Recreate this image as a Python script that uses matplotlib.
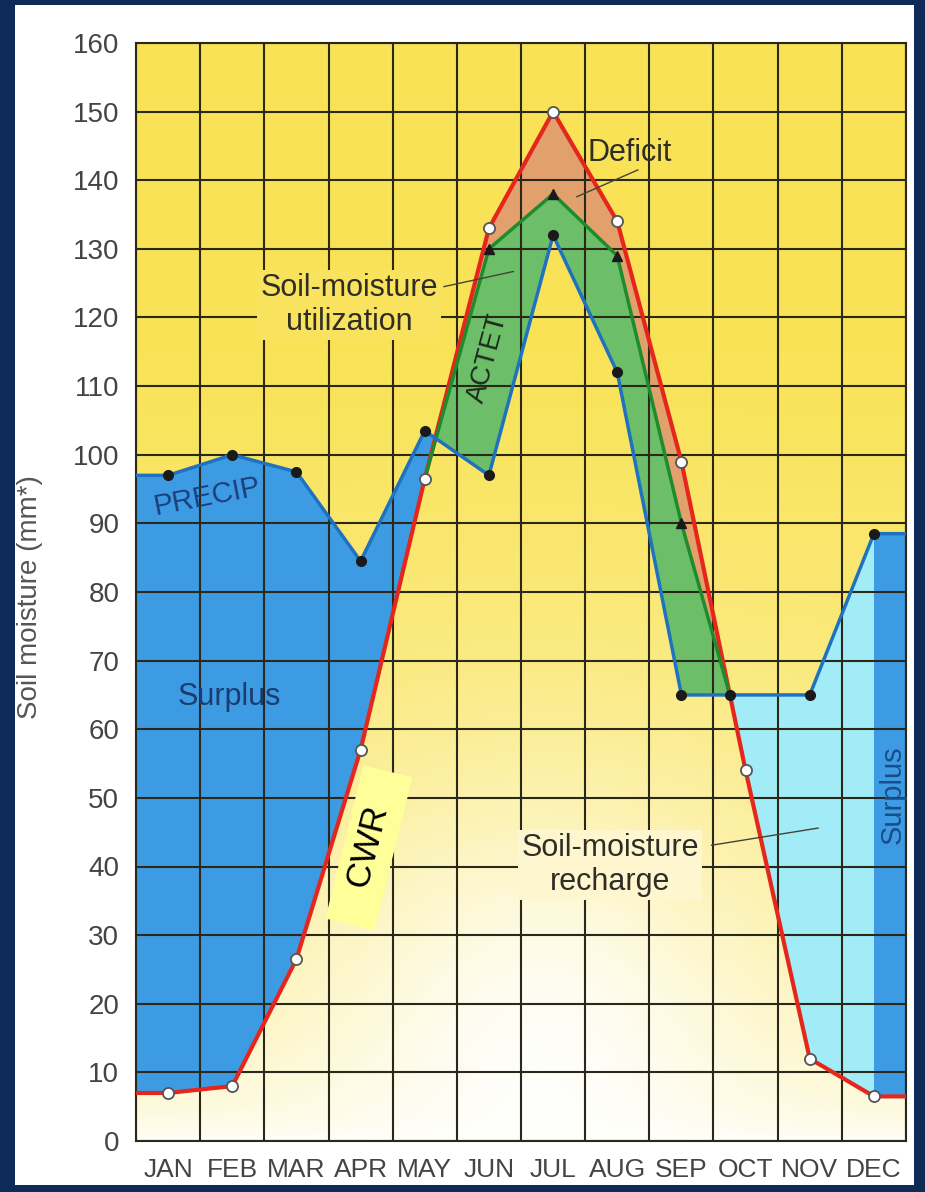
import numpy as np
import matplotlib.pyplot as plt
from matplotlib.patches import Rectangle

months = ["JAN", "FEB", "MAR", "APR", "MAY", "JUN",
          "JUL", "AUG", "SEP", "OCT", "NOV", "DEC"]
# crop water requirement (red, open circles)
cwr = [7, 8, 26.5, 57, 96.5, 133, 150, 134, 99, 54, 12, 6.5]
# precipitation (blue, black dots)
precip = [97, 100, 97.5, 84.5, 103.5, 97, 132, 112, 65, 65, 65, 88.5]
# actual ET, MAY..OCT (green, triangles)
actet = [96.5, 130, 138, 129, 90, 65]
yticks = list(range(0, 161, 10))

plt.rcParams["font.family"] = ["Liberation Sans", "DejaVu Sans"]

fig = plt.figure(figsize=(9.25, 11.92), dpi=100, facecolor="#0E2A57")
fig.patches.append(Rectangle((15 / 925, 7 / 1192), 899 / 925, 1180 / 1192,
                             transform=fig.transFigure, fc="white", ec="none", zorder=-1))
ax = fig.add_axes([136 / 925, 51 / 1192, 770 / 925, 1098 / 1192])

# background: yellow sky fading to a white glow at the bottom
gx, gy = np.meshgrid(np.linspace(0, 12, 300), np.linspace(0, 160, 400))
s = np.clip(gy / 115, 0, 1) ** 0.5
glow = np.exp(-(((gx - 6.3) / 3.3) ** 2 + ((gy - 10) / 38) ** 2))
s = s * (1 - 0.9 * glow)
yellow = np.array([0.978, 0.89, 0.34])
img = 1 - s[..., None] * (1 - yellow)
ax.imshow(img, extent=[0, 12, 0, 160], origin="lower", aspect="auto", zorder=0)

xm = np.arange(12) + 0.5
xe = np.concatenate([[0], xm, [12]])
cwr_e = np.concatenate([[cwr[0]], cwr, [cwr[-1]]])
# point where the red curve drops through the flat 65 line
x_cross = 8.5 + (cwr[8] - precip[9]) / (cwr[8] - cwr[9])
xp = xm.copy()
xp[9] = x_cross
xp_e = np.concatenate([[0], xp, [12]])
precip_e = np.concatenate([[precip[0]], precip, [precip[-1]]])
xa = xm[4:10].copy()
xa[-1] = x_cross

xx = np.linspace(0, 12, 3000)
c = np.interp(xx, xe, cwr_e)
p = np.interp(xx, xp_e, precip_e)
a = np.interp(xx, xa, actet)

ax.fill_between(xx, c, p, where=(p > c) & (xx < 5.5), color="#3D9BE4",
                interpolate=True, lw=0, zorder=1)
ax.fill_between(xx, p, a, where=(a > p) & (xx > 4.5) & (xx <= x_cross), color="#6CBE68",
                interpolate=True, lw=0, zorder=1)
ax.fill_between(xx, a, c, where=(c > a) & (xx > 4.5) & (xx <= x_cross), color="#E2A06C",
                interpolate=True, lw=0, zorder=1)
ax.fill_between(xx, c, p, where=(xx >= x_cross) & (xx <= 11.5), color="#A2ECF8",
                lw=0, zorder=1)
ax.fill_between(xx, c, p, where=(xx >= 11.5), color="#3D9BE4", lw=0, zorder=1)

ax.plot(xe, cwr_e, color="#E5261C", lw=3, zorder=4)
ax.plot(xm, cwr, "o", ms=8, mfc="white", mec="#555555", mew=1.3, zorder=6)
ax.plot(xa, actet, color="#1E8C2C", lw=2.5, zorder=4.5)
ax.plot(xa[1:5], actet[1:5], "^", ms=7, color="#1a1a1a", zorder=6)
ax.plot(xp_e, precip_e, color="#1F72BF", lw=2.5, zorder=5)
ax.plot(xp, precip, "o", ms=7, color="#1a1a1a", zorder=6)

ax.set_xlim(0, 12)
ax.set_ylim(0, 160)
ax.set_xticks(xm)
ax.set_xticklabels(months)
ax.set_xticks(np.arange(13), minor=True)
ax.set_yticks(yticks)
ax.set_axisbelow(False)
ax.grid(which="minor", axis="x", color="#2a2818", lw=1.5, zorder=2.5)
ax.grid(which="major", axis="y", color="#2a2818", lw=1.5, zorder=2.5)
ax.tick_params(axis="both", which="both", length=0, labelcolor="#444444")
ax.tick_params(axis="y", pad=12, labelsize=20)
ax.tick_params(axis="x", pad=12, labelsize=19)
for sp in ax.spines.values():
    sp.set_color("#2a2818")
    sp.set_linewidth(1.5)
ax.set_ylabel("Soil moisture (mm*)", fontsize=20, color="#555555")
ax.yaxis.set_label_coords(-0.121, 0.495)

# annotations
ink = "#2e2e26"
ax.text(7.7, 144, "Deficit", fontsize=22, color=ink, ha="center", va="center")
ax.plot([7.82, 6.87], [141.5, 137.6], color="#444433", lw=1, zorder=5)
ax.text(3.32, 121.8, "Soil-moisture\nutilization", fontsize=22, color=ink,
        ha="center", va="center", linespacing=1.15,
        bbox=dict(boxstyle="square,pad=0.1", fc="#F9E25E", ec="none"))
ax.plot([4.8, 5.88], [124.5, 126.7], color="#444433", lw=1, zorder=5)
ax.text(5.49, 114.1, "ACTET", fontsize=20, color="#1d2a1d", rotation=75,
        ha="center", va="center", zorder=6)
ax.text(1.11, 93.9, "PRECIP", fontsize=21, color="#1C3F7A", rotation=11,
        ha="center", va="center", zorder=6)
ax.text(1.46, 64.7, "Surplus", fontsize=22, color="#1A3C6E", ha="center", va="center")
ax.text(11.8, 50.4, "Surplus", fontsize=21, color="#1A4E8A", rotation=90,
        ha="center", va="center")
ax.text(7.39, 40.2, "Soil-moisture\nrecharge", fontsize=22, color=ink,
        ha="center", va="center", linespacing=1.15,
        bbox=dict(boxstyle="square,pad=0.1", fc="#FDF6CF", ec="none"))
ax.plot([8.97, 10.63], [43.1, 45.6], color="#444433", lw=1, zorder=5)
ax.text(3.63, 42.7, "   CWR   ", fontsize=25, color="black", rotation=76,
        ha="center", va="center", zorder=7,
        bbox=dict(boxstyle="square,pad=0.25", fc="#FFFF99", ec="none"))

fig.savefig("out.png", dpi=100, facecolor=fig.get_facecolor())
